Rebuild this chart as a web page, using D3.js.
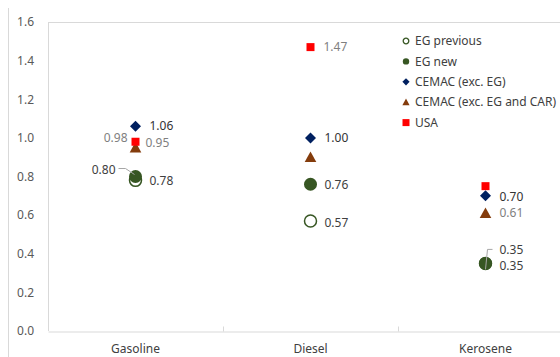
<!DOCTYPE html>
<html>
<head>
<meta charset="utf-8">
<script src="https://cdn.jsdelivr.net/npm/d3@7"></script>
<style>
  body { margin: 0; background: #fff; }
  svg { display: block; font-family: "Noto Sans", sans-serif; }
</style>
</head>
<body>
<svg></svg>
<script>
// data
let categories = ["Gasoline", "Diesel", "Kerosene"]
let seriesNames = ["EG previous", "EG new", "CEMAC (exc. EG)", "CEMAC (exc. EG and CAR)", "USA"]
let egPrevious = [0.78, 0.57, 0.35]
let egNew = [0.80, 0.76, 0.35]
let cemac = [1.06, 1.00, 0.70]
let cemacNoCar = [0.95, 0.90, 0.61]
let usa = [0.98, 1.47, 0.75]
let yTicks = [0, 0.2, 0.4, 0.6, 0.8, 1.0, 1.2, 1.4, 1.6]

// which points show a label
let showLabel = [
    [true, true, true],
    [true, true, true],
    [true, true, true],
    [true, false, true],
    [true, true, false]
]

let width = 560
let height = 357
let plotLeft = 48
let plotRight = 573
let plotTop = 22
let plotBottom = 331

let svg = d3.select("svg")
let xScale, yScale

let seriesStyle = [
    {shape: "openCircle", color: "#375623", label: "#404040"},
    {shape: "circle", color: "#375623", label: "#404040"},
    {shape: "diamond", color: "#002060", label: "#333333"},
    {shape: "triangle", color: "#843C0C", label: "#7f7f7f"},
    {shape: "square", color: "#FF0000", label: "#7f7f7f"}
]

// label placement tweaks: [series][category] -> offsets from the marker
let labelPlace = [
    [{dx: 14, dy: 0}, {dx: 14, dy: 2}, {dx: 14, dy: -14, leader: true}],
    [{dx: -20, dy: -7, anchor: "end", leader: true}, {dx: 14, dy: 1}, {dx: 14, dy: 2}],
    [{dx: 14, dy: 0}, {dx: 14, dy: 0}, {dx: 14, dy: 1}],
    [{dx: 10, dy: -5}, null, {dx: 14, dy: 0}],
    [{dx: -8, dy: -4, anchor: "end"}, {dx: 13, dy: 0}, null]
]

let drawCanvas = () => {
    svg.attr("width", width)
        .attr("height", height)
}

let generateScales = () => {
    xScale = d3.scaleBand()
                .domain(categories)
                .range([plotLeft, plotRight])
                .padding(0)
    yScale = d3.scaleLinear()
                .domain([0, 1.6])
                .range([plotBottom, plotTop])
}

let markerPath = (shape, s) => {
    let p = d3.path()
    if (shape === "diamond") {
        p.moveTo(0, -s); p.lineTo(s, 0); p.lineTo(0, s); p.lineTo(-s, 0); p.closePath()
    } else if (shape === "triangle") {
        p.moveTo(0, -s); p.lineTo(s, s * 0.85); p.lineTo(-s, s * 0.85); p.closePath()
    } else if (shape === "square") {
        p.rect(-s, -s, 2 * s, 2 * s)
    } else {
        p.arc(0, 0, s, 0, 2 * Math.PI)
    }
    return p.toString()
}

let drawFrame = () => {
    svg.append("line")
        .attr("x1", 8.5).attr("x2", 8.5)
        .attr("y1", 8).attr("y2", height)
        .style("stroke", "#d9d9d9")

    svg.append("line")
        .attr("x1", plotLeft + 0.5).attr("x2", plotLeft + 0.5)
        .attr("y1", plotTop).attr("y2", plotBottom)
        .style("stroke", "#d9d9d9")

    svg.append("line")
        .attr("x1", plotLeft).attr("x2", width)
        .attr("y1", plotTop + 0.5).attr("y2", plotTop + 0.5)
        .style("stroke", "#d9d9d9")
}

let generateAxes = () => {
    let xAxis = d3.axisBottom(xScale).tickSize(0).tickSizeOuter(0)
    let gx = svg.append("g")
        .call(xAxis)
        .attr("id", "x-axis")
        .attr("transform", "translate(0," + (plotBottom + 0.5) + ")")
    gx.select(".domain").style("stroke", "#d9d9d9")
    gx.selectAll("text")
        .attr("y", 17)
        .attr("dy", "0.35em")
        .style("font-size", "12px")
        .style("fill", "#404040")
        .style("font-family", "Noto Sans, sans-serif")

    // inside tick marks between categories
    gx.selectAll(".sep")
        .data(categories.slice(1))
        .enter()
        .append("line")
        .attr("x1", (c) => Math.round(xScale(c)) + 0.5)
        .attr("x2", (c) => Math.round(xScale(c)) + 0.5)
        .attr("y1", 0).attr("y2", -5)
        .style("stroke", "#d9d9d9")

    let yAxis = d3.axisLeft(yScale)
                    .tickValues(yTicks)
                    .tickFormat(d3.format(".1f"))
                    .tickSize(0)
    let gy = svg.append("g")
        .call(yAxis)
        .attr("id", "y-axis")
        .attr("transform", "translate(34,0)")
    gy.select(".domain").remove()
    gy.selectAll("text")
        .attr("x", 0)
        .style("font-size", "12px")
        .style("fill", "#595959")
        .style("font-family", "Noto Sans, sans-serif")
}

let drawPoints = () => {
    let allSeries = [egPrevious, egNew, cemac, cemacNoCar, usa]
    let sizes = {openCircle: 6, circle: 6.5, diamond: 5.5, triangle: 5.8, square: 4}

    allSeries.forEach((values, si) => {
        let st = seriesStyle[si]
        let pts = values.map((v, ci) => ({cat: categories[ci], v: v, ci: ci}))

        svg.append("g")
            .selectAll("path")
            .data(pts)
            .enter()
            .append("path")
            .attr("d", markerPath(st.shape, sizes[st.shape]))
            .attr("transform", (d) => "translate(" + (xScale(d.cat) + xScale.bandwidth() / 2) + "," + yScale(d.v) + ")")
            .style("fill", st.shape === "openCircle" ? "#fff" : st.color)
            .style("stroke", st.shape === "openCircle" ? st.color : "none")
            .style("stroke-width", 1.5)
    })

    // labels on top
    allSeries.forEach((values, si) => {
        let st = seriesStyle[si]
        values.forEach((v, ci) => {
            let place = labelPlace[si][ci]
            if (!showLabel[si][ci] || !place) return
            let cx = xScale(categories[ci]) + xScale.bandwidth() / 2
            let cy = yScale(v)
            let tx = cx + place.dx
            let ty = cy + place.dy
            if (place.leader) {
                let pts
                if (place.anchor === "end") {
                    pts = [[tx + 3, ty - 1], [tx + 10, ty - 1], [cx - 1, cy - 2]]
                } else {
                    pts = [[tx - 7, ty], [tx - 12, ty], [cx, cy + 6]]
                }
                svg.append("path")
                    .attr("d", d3.line()(pts))
                    .style("fill", "none")
                    .style("stroke", "#a6a6a6")
                    .style("stroke-width", 1)
            }
            svg.append("text")
                .text(d3.format(".2f")(v))
                .attr("x", tx)
                .attr("y", ty)
                .attr("dy", "0.35em")
                .attr("text-anchor", place.anchor || "start")
                .style("font-size", "12px")
                .style("fill", st.label)
        })
    })
}

let drawLegend = () => {
    let legend = svg.append("g").attr("id", "legend")
    let legendSizes = {openCircle: 2.8, circle: 3.2, diamond: 3.6, triangle: 3.6, square: 3.5}
    seriesNames.forEach((name, i) => {
        let st = seriesStyle[i]
        let y = 41 + i * 20.4
        legend.append("path")
            .attr("d", markerPath(st.shape, legendSizes[st.shape]))
            .attr("transform", "translate(406," + y + ")")
            .style("fill", st.shape === "openCircle" ? "#fff" : st.color)
            .style("stroke", st.shape === "openCircle" ? st.color : "none")
            .style("stroke-width", 1.3)
        legend.append("text")
            .text(name)
            .attr("x", 415)
            .attr("y", y)
            .attr("dy", "0.35em")
            .style("font-size", "12px")
            .style("fill", "#404040")
    })
}

drawCanvas()
generateScales()
drawFrame()
generateAxes()
drawPoints()
drawLegend()
</script>
</body>
</html>
